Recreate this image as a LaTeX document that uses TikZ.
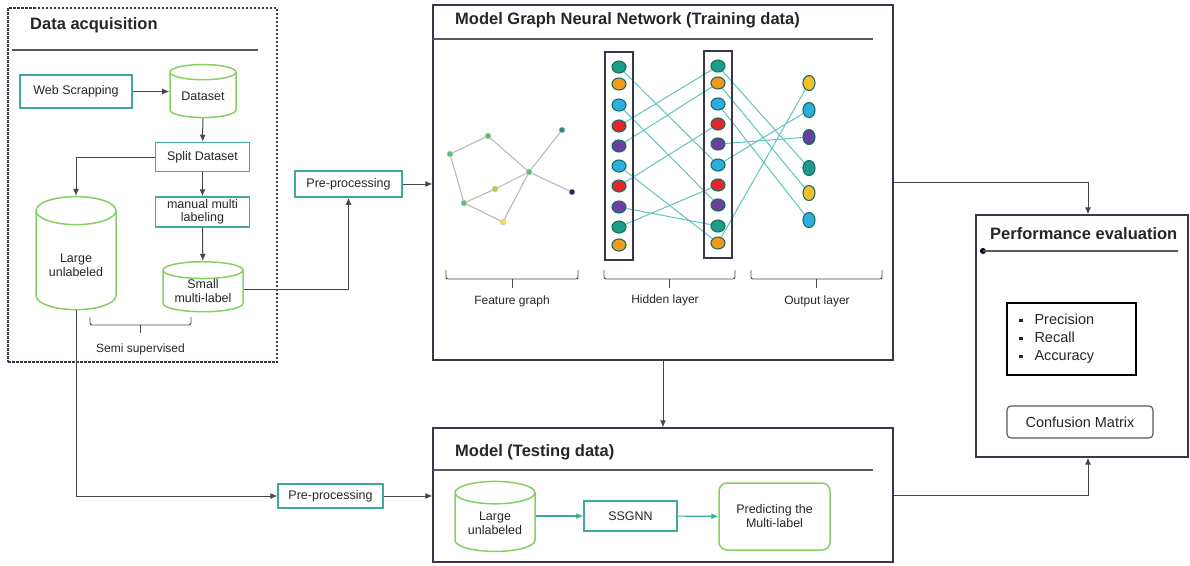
\documentclass[tikz,border=0pt]{standalone}
\usepackage{fontspec}
\setmainfont{Liberation Sans}
\usetikzlibrary{arrows.meta,shapes.geometric,fit,backgrounds}

\definecolor{boxteal}{HTML}{3FA9A0}
\definecolor{cylgreen}{HTML}{86CF63}
\definecolor{wirecol}{HTML}{5EC4BC}
\definecolor{framecol}{HTML}{3A3848}
\definecolor{ink}{HTML}{262626}
\definecolor{nteal}{HTML}{1E9C8A}
\definecolor{norange}{HTML}{F39A1E}
\definecolor{ncyan}{HTML}{2EAEE0}
\definecolor{nred}{HTML}{E3262A}
\definecolor{npurple}{HTML}{6B3FA0}
\definecolor{nyellow}{HTML}{F7BE2A}
\definecolor{vgreen}{HTML}{5CC16C}
\definecolor{vlime}{HTML}{B5D43B}
\definecolor{vyellow}{HTML}{F0E040}
\definecolor{vteal}{HTML}{2A8A8A}
\definecolor{vdark}{HTML}{3B1C5A}

\newcommand{\sqb}{\rule[0.3ex]{3.5pt}{3.5pt}\hspace{12pt}}

\begin{document}
\begin{tikzpicture}[x=1pt, y=-1pt,
    every node/.style={font=\fontsize{12.5}{14}\selectfont, text=ink},
    stage/.style={draw=framecol, line width=1.3pt},
    headline/.style={font=\fontsize{16.5}{18}\selectfont\bfseries, anchor=west, inner sep=0pt},
    hrule/.style={draw=black!65, line width=1.1pt},
    procbox/.style={draw=boxteal, line width=1.5pt, align=center},
    % cap height follows aspect * inner xsep
    store/.style={cylinder, shape border rotate=90, aspect=#1, draw=cylgreen, line width=1.5pt},
    store/.default=0.25,
    flow/.style={draw=ink!85, line width=1pt, -{Latex[length=7pt, width=6pt]}},
    tflow/.style={draw=boxteal, line width=1.1pt, -{Latex[length=7pt, width=6pt]}},
    neuron/.style={ellipse, draw=nteal!70!black, line width=1.1pt, minimum width=14pt, minimum height=12pt, inner sep=0pt},
    outn/.style={ellipse, draw=nteal!70!black, line width=1.1pt, minimum width=12pt, minimum height=15pt, inner sep=0pt},
    fnode/.style={circle, draw=white!60!gray, line width=0.5pt, minimum size=6pt, inner sep=0pt},
    wire/.style={draw=wirecol, line width=1pt},
    gedge/.style={draw=gray!55, line width=1.1pt},
    layerbox/.style={draw=framecol, line width=2pt, inner xsep=6pt, inner ysep=8pt},
    hook/.style={draw=black!70, line width=0.9pt, rounded corners=2pt},
    small/.style={font=\fontsize{12}{14}\selectfont}
]
\useasboundingbox (0,0) rectangle (1190,565);

% data acquisition
\node[stage, dash pattern=on 2.5pt off 1.5pt, minimum width=269pt, minimum height=354pt] (acq) at (142.5,185) {};
\node[headline] (acqtitle) at (30,25) {Data acquisition};
\draw[hrule] (12,50) -- (258,50);

\node[procbox, minimum width=112pt, minimum height=33pt] (web) at (76,91.5) {Web Scrapping};
\node[store=0.23, inner xsep=33pt, minimum height=53pt,
      label={[yshift=2.5pt]center:Dataset}] (dataset) at (203,99) {};
\node[procbox, minimum width=94pt, minimum height=29pt] (split) at (202.5,157) {Split Dataset};
\node[procbox, minimum width=94pt, minimum height=30pt, inner sep=1pt, font=\fontsize{12.5}{13}\selectfont] (manual) at (202.5,212) {manual multi\\labeling};
\node[store=0.35, inner xsep=40pt, minimum height=113pt,
      label={[align=center, yshift=2pt]center:Large\\unlabeled}] (large) at (76,267.5) {};
\node[store=0.21, inner xsep=40pt, minimum height=50pt,
      label={[align=center, yshift=4pt]center:Small\\multi-label}] (smallset) at (203,295.5) {};

\draw[flow] (web.east) -- (web.east -| dataset.west);
\draw[flow] (dataset) -- (split);
\draw[flow] (split.west) -| (large.north);
\draw[flow] (split) -- (manual);
\draw[flow] (manual) -- (smallset);

\draw[hook] (90,317) -- (90,325) -- (191,325) -- (191,317);
\draw[hook] (140.5,325) -- (140.5,333);
\node[small] (semi) at (140.5,349) {Semi supervised};

% pre-processing
\node[procbox, minimum width=107pt, minimum height=26pt] (prep1) at (348.5,184) {Pre-processing};
\node[procbox, minimum width=105pt, minimum height=24pt] (prep2) at (330.5,496) {Pre-processing};

% training model
\node[stage, minimum width=460pt, minimum height=355pt] (gnn) at (663,182.5) {};
\node[headline] (gnntitle) at (455,20) {Model Graph Neural Network (Training data)};
\draw[hrule] (433,39) -- (873,39);

% feature graph
\node[fnode, fill=vgreen] (fa) at (450,154) {};
\node[fnode, fill=vgreen] (fb) at (488,136) {};
\node[fnode, fill=vgreen] (fc) at (529,172) {};
\node[fnode, fill=vteal] (fd) at (562,130) {};
\node[fnode, fill=vdark] (fe) at (572,192) {};
\node[fnode, fill=vgreen] (ff) at (464,203) {};
\node[fnode, fill=vlime] (fg) at (495,189) {};
\node[fnode, fill=vyellow] (fh) at (503,222) {};
\begin{scope}[on background layer]
  \foreach \s/\t in {fa/fb,fb/fc,fa/ff,ff/fg,fg/fc,fc/fd,fc/fe,ff/fh,fh/fc}
    \draw[gedge] (\s) -- (\t);
\end{scope}

% hidden layers
\foreach \y/\c [count=\i] in {67/nteal,84/norange,105/ncyan,126/nred,146/npurple,166/ncyan,186/nred,207/npurple,227/nteal,245/norange}
  \node[neuron, fill=\c] (a\i) at (619,\y) {};
\foreach \y/\c [count=\i] in {66/nteal,83/norange,104/ncyan,124/nred,144/npurple,165/ncyan,185/nred,205/npurple,226/nteal,243/norange}
  \node[neuron, fill=\c] (b\i) at (718,\y) {};
\foreach \y/\c [count=\i] in {83/nyellow,110/ncyan,137/npurple,168/nteal,193/nyellow,220/ncyan}
  \node[outn, fill=\c] (o\i) at (809,\y) {};
\node[layerbox, fit=(a1)(a10)] (hid1) {};
\node[layerbox, fit=(b1)(b10)] (hid2) {};

\begin{scope}[on background layer]
  \foreach \s/\t in {1/6,3/8,4/1,5/2,6/10,7/4,8/9,9/7}
    \draw[wire] (a\s) -- (b\t);
  \foreach \s/\t in {1/4,2/5,3/6,5/3,6/2,10/1}
    \draw[wire] (b\s) -- (o\t);
\end{scope}

\draw[hook] (446,270) -- (446,279) -- (578,279) -- (578,270);
\draw[hook] (512,279) -- (512,288);
\node[small] (fglabel) at (512,301) {Feature graph};
\draw[hook] (604,270) -- (604,279) -- (735,279) -- (735,270);
\draw[hook] (669.5,279) -- (669.5,288);
\node[small] (hidlabel) at (665,300) {Hidden layer};
\draw[hook] (751,270) -- (751,279) -- (882,279) -- (882,270);
\draw[hook] (816.5,279) -- (816.5,288);
\node[small] (outlabel) at (817,301) {Output layer};

% testing model
\node[stage, minimum width=460pt, minimum height=134pt] (test) at (663,495) {};
\node[headline] (testtitle) at (455,452) {Model (Testing data)};
\draw[hrule] (433,470) -- (873,470);
\node[store=0.28, inner xsep=40pt, minimum height=70pt,
      label={[align=center, yshift=4.5pt]center:Large\\unlabeled}] (tlarge) at (495,528) {};
\node[procbox, minimum width=93pt, minimum height=30pt] (ssgnn) at (630.5,516) {SSGNN};
\node[procbox, draw=cylgreen, rounded corners=8pt, minimum width=111pt, minimum height=67pt] (predict) at (774.5,516.5) {Predicting the\\Multi-label};
\draw[tflow] (tlarge.east |- ssgnn) -- (ssgnn);
\draw[tflow] (ssgnn) -- (predict);

% performance evaluation
\node[stage, minimum width=212pt, minimum height=242pt] (perf) at (1082,336) {};
\node[headline] (perftitle) at (990,234) {Performance evaluation};
\fill[black] (983,251) circle (3pt);
\draw[hrule] (983,251) -- (1178,251);
\node[draw=black, line width=1.4pt, minimum height=72pt, text width=105pt, inner xsep=12pt, align=left,
      font=\fontsize{14.5}{18}\selectfont] (metrics) at (1071.5,339) {\sqb Precision\\\sqb Recall\\\sqb Accuracy};
\node[draw=framecol!85, line width=1.1pt, rounded corners=4pt, minimum width=146pt, minimum height=32pt,
      font=\fontsize{14.5}{16}\selectfont] (confusion) at (1080,422) {Confusion Matrix};

% connections between stages
\draw[flow] ([yshift=6.5pt]smallset.east) -| (prep1.south);
\draw[flow] (prep1.east) -- (prep1.east -| gnn.west);
\draw[flow] (large.south) |- (prep2.west);
\draw[flow] (prep2.east) -- (prep2.east -| test.west);
\draw[flow] (gnn.south) -- (test.north);
\draw[flow] (gnn.east) -| ([xshift=6pt]perf.north);
\draw[flow] (test.east) -| ([xshift=6pt]perf.south);
\end{tikzpicture}
\end{document}
